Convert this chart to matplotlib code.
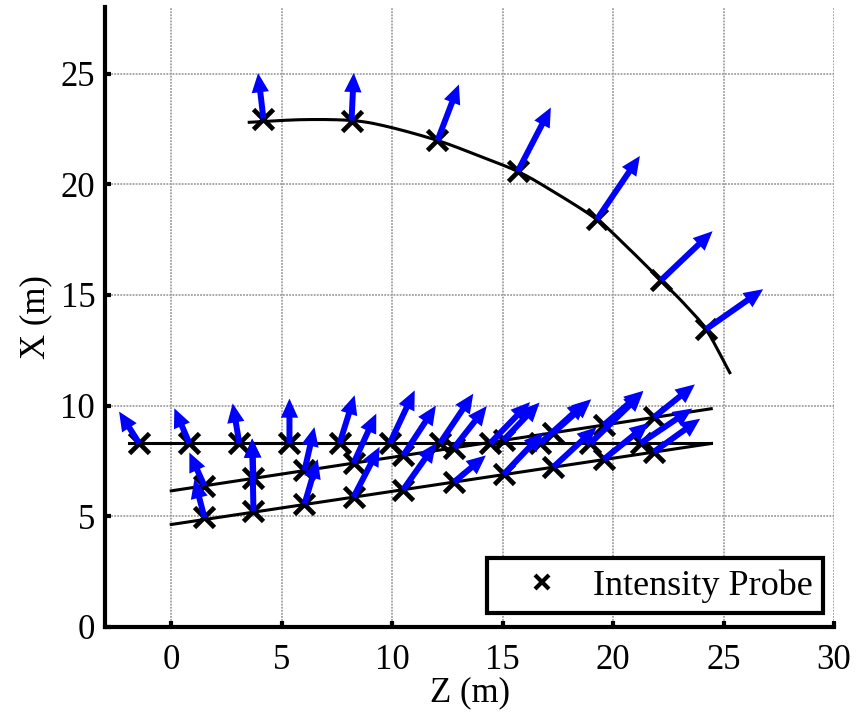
import numpy as np
import matplotlib
matplotlib.use("Agg")
import matplotlib.pyplot as plt
from matplotlib.lines import Line2D

# ---- curved probe row (outer arc) ----
arc_z = [3.53, 5.95, 8.16, 9.73, 12.05, 13.96, 15.68, 17.13, 19.26, 20.60, 22.16, 23.17, 24.20, 25.28]
arc_x = [22.80, 22.92, 22.88, 22.62, 21.98, 21.27, 20.58, 19.77, 18.41, 17.20, 15.66, 14.65, 13.45, 11.49]

arc_probe_z = [4.17, 8.16, 12.05, 15.68, 19.26, 22.16, 24.20]
arc_probe_x = [22.97, 22.88, 21.98, 20.58, 18.41, 15.66, 13.45]
arc_iz = [-0.24, 0.10, 0.97, 1.50, 1.95, 2.34, 2.59]
arc_ix = [2.05, 2.15, 2.53, 2.89, 2.87, 2.22, 1.81]

# ---- straight probe rows ----
row_a_line_z = [-1.92, 24.44]
row_a_line_x = [8.30, 8.30]
row_b_line_z = [0.0, 24.44]
row_b_line_x = [6.15, 9.86]
row_c_line_z = [0.0, 24.44]
row_c_line_x = [4.63, 8.29]

row_a_z = [-1.45, 0.82, 3.08, 5.35, 7.62, 9.89, 12.16, 14.43, 16.70, 18.97, 21.24]
row_a_x = [8.30] * 11
row_a_iz = [-0.91, -0.68, -0.30, 0.00, 0.68, 1.13, 1.51, 1.81, 2.10, 2.38, 2.34]
row_a_ix = [1.43, 1.58, 1.80, 2.02, 2.17, 2.39, 2.24, 1.86, 1.90, 2.30, 1.57]

row_b_z = [1.50, 3.72, 6.03, 8.25, 10.50, 12.80, 15.04, 17.30, 19.57, 21.84]
row_b_x = [6.38, 6.71, 7.07, 7.40, 7.75, 8.10, 8.44, 8.78, 9.12, 9.47]
row_b_iz = [-0.68, -0.06, 0.45, 1.03, 1.48, 1.48, 1.63, 1.71, 1.80, 1.86]
row_b_ix = [1.50, 1.80, 1.96, 2.24, 2.25, 1.88, 1.70, 1.51, 1.55, 1.49]

row_c_z = [1.50, 3.72, 6.03, 8.25, 10.50, 12.80, 15.04, 17.30, 19.57, 21.84]
row_c_x = [4.95, 5.25, 5.55, 5.87, 6.21, 6.55, 6.89, 7.23, 7.57, 7.91]
row_c_iz = [-0.45, -0.06, 0.60, 1.18, 1.48, 1.44, 1.80, 1.95, 2.05, 2.10]
row_c_ix = [1.73, 3.27, 2.03, 2.27, 2.09, 1.20, 1.90, 1.80, 1.65, 1.50]

z_ticks = [0, 5, 10, 15, 20, 25, 30]
x_ticks = [0, 5, 10, 15, 20, 25]


def catmull_rom(xs, ys, steps=12):
    """Smooth polyline through the given points (uniform Catmull-Rom)."""
    p = np.column_stack([xs, ys]).astype(float)
    p = np.vstack([2 * p[0] - p[1], p, 2 * p[-1] - p[-2]])
    out = []
    t = np.linspace(0, 1, steps, endpoint=False)[:, None]
    for i in range(1, len(p) - 2):
        p0, p1, p2, p3 = p[i - 1], p[i], p[i + 1], p[i + 2]
        seg = 0.5 * ((2 * p1) + (-p0 + p2) * t +
                     (2 * p0 - 5 * p1 + 4 * p2 - p3) * t ** 2 +
                     (-p0 + 3 * p1 - 3 * p2 + p3) * t ** 3)
        out.append(seg)
    out.append(p[-2][None, :])
    out = np.vstack(out)
    return out[:, 0], out[:, 1]


plt.rcParams['font.family'] = ['Liberation Serif', 'DejaVu Serif']
plt.rcParams['font.size'] = 25

fig = plt.figure(figsize=(8.59, 7.21), dpi=100)
ax = fig.add_axes([0.1222, 0.1304, 0.8488, 0.8596])

ax.set_xlim(-3, 30)
ax.set_ylim(0, 28)

ax.grid(True, color='#a0a0a0', linestyle=(0, (1.0, 0.7)), linewidth=1.3)
ax.set_axisbelow(True)

line_kw = dict(color='black', linewidth=2.2, zorder=3)
sz, sx = catmull_rom(arc_z, arc_x)
ax.plot(sz, sx, **line_kw)
ax.plot(row_a_line_z, row_a_line_x, **line_kw)
ax.plot(row_b_line_z, row_b_line_x, **line_kw)
ax.plot(row_c_line_z, row_c_line_x, **line_kw)

pz = arc_probe_z + row_a_z + row_b_z + row_c_z
px = arc_probe_x + row_a_x + row_b_x + row_c_x
iz = arc_iz + row_a_iz + row_b_iz + row_c_iz
ix = arc_ix + row_a_ix + row_b_ix + row_c_ix

ax.plot(pz, px, linestyle='none', marker='x', markersize=14,
        markeredgewidth=3.4, color='black', zorder=4)

ax.quiver(pz, px, iz, ix, angles='xy', scale_units='xy', scale=1,
          color='#0000ff', width=0.0082, headwidth=2.9, headlength=3.2,
          headaxislength=3.2, zorder=5)

ax.set_xticks(z_ticks)
ax.set_yticks(x_ticks)
ax.tick_params(direction='in', length=4, width=3, top=False, right=False)
ax.tick_params(axis='x', pad=12)
ax.tick_params(axis='y', pad=7)
for side in ['top', 'right']:
    ax.spines[side].set_visible(False)
for side in ['left', 'bottom']:
    ax.spines[side].set_linewidth(3.0)

ax.set_xlabel('Z (m)', labelpad=0)
ax.set_ylabel('X (m)', labelpad=6)

handle = Line2D([], [], linestyle='none', marker='x', markersize=10,
                markeredgewidth=3, color='black')
leg = ax.legend([handle], ['Intensity Probe'], loc='lower right',
                bbox_to_anchor=(0.985, 0.022), fancybox=False, framealpha=1,
                edgecolor='black', borderpad=0.3, handletextpad=0.17,
                handlelength=2.44, borderaxespad=0, fontsize=26)
leg.get_frame().set_linewidth(3.0)

fig.savefig('out.png', dpi=100)
